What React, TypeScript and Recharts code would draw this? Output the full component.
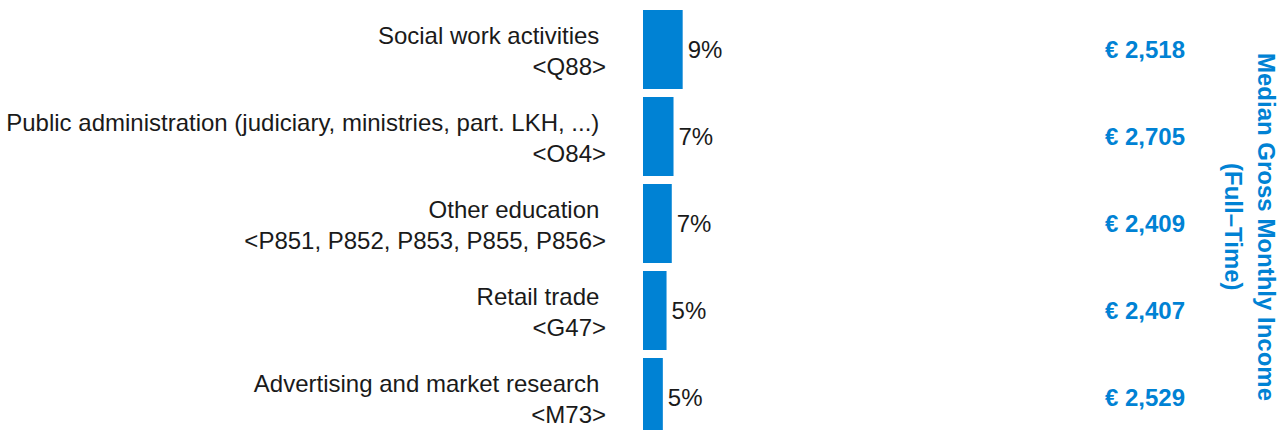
import { BarChart, Bar, XAxis, YAxis, LabelList } from "recharts";

const industries = [
  "Social work activities",
  "Public administration (judiciary, ministries, part. LKH, ...)",
  "Other education",
  "Retail trade",
  "Advertising and market research",
];
const naceCodes = ["<Q88>", "<O84>", "<P851, P852, P853, P855, P856>", "<G47>", "<M73>"];
const shares = [9.1, 7.0, 6.6, 5.4, 4.55];
const medianIncome = [2518, 2705, 2409, 2407, 2529];

const BLUE = "#0082D4";
const INK = "#1a1a1a";
const FONT = "'Liberation Sans', Arial, Helvetica, sans-serif";
const INCOME_RIGHT = 1185;

const data = industries.map((name, i) => ({
  name,
  code: naceCodes[i],
  share: shares[i],
  income: medianIncome[i],
}));

const IndustryTick = ({ x, y, payload }: any) => {
  const row = data.find(d => d.name === payload.value);
  return (
    <text x={x} y={y} textAnchor="end" fontFamily={FONT} fontSize={24} fill={INK}>
      <tspan x={x} dy={-6}>{payload.value + "\u00a0"}</tspan>
      <tspan x={x} dy={31.7}>{row?.code}</tspan>
    </text>
  );
};

const IncomeLabel = ({ y, height, value }: any) => (
  <text
    x={INCOME_RIGHT}
    y={Number(y) + Number(height) / 2}
    dy="0.355em"
    textAnchor="end"
    fontFamily={FONT}
    fontSize={24}
    fontWeight="bold"
    fill={BLUE}
  >
    {`€ ${Number(value).toLocaleString("en-US")}`}
  </text>
);

const App = () => (
  <div
    style={{
      position: "absolute", left: 0, top: 0, width: 1284, height: 430,
      overflow: "hidden", background: "#fff", fontFamily: FONT,
    }}
  >
    <BarChart
      width={1284}
      height={441}
      data={data}
      layout="vertical"
      margin={{ top: 6, right: 205, bottom: 0, left: 0 }}
    >
      <XAxis type="number" domain={[0, 100]} hide />
      <YAxis
        type="category"
        dataKey="name"
        width={643}
        axisLine={false}
        tickLine={false}
        tickSize={0}
        tickMargin={37}
        tick={<IndustryTick />}
        interval={0}
      />
      <Bar dataKey="share" fill={BLUE} barSize={79} isAnimationActive={false}>
        <LabelList
          dataKey="share"
          position="right"
          offset={5}
          formatter={(v: any) => `${Math.round(Number(v))}%`}
          fill={INK}
          fontSize={24}
          fontFamily={FONT}
        />
        <LabelList dataKey="income" content={<IncomeLabel />} />
      </Bar>
    </BarChart>
    <div
      style={{
        position: "absolute", left: 1217, top: 27, width: 66, height: 400,
        writingMode: "vertical-rl", textAlign: "center",
        fontSize: 24, fontWeight: "bold", lineHeight: "33px", color: BLUE,
      }}
    >
      Median Gross Monthly Income
      <br />
      (Full–Time)
    </div>
  </div>
);

export default App;
